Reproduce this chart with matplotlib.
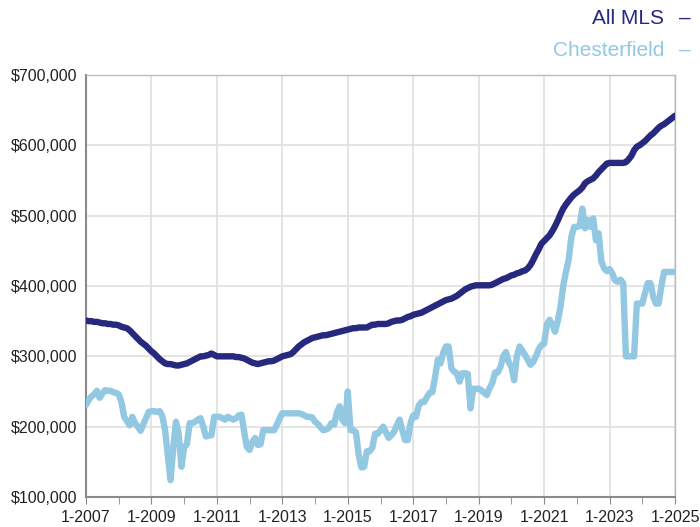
import matplotlib
matplotlib.use('Agg')
import matplotlib.pyplot as plt
import numpy as np

plt.rcParams['font.family'] = ['Liberation Sans', 'DejaVu Sans']

# monthly median price, Jan 2007 .. Jan 2025, in $1000s
all_mls = [
    351, 350, 350, 349, 349, 348, 347, 347, 346, 346, 345, 345,   # 2007
    344, 342, 341, 340, 337, 333, 329, 325, 321, 318, 315, 311,   # 2008
    307, 304, 300, 296, 293, 290, 289, 289, 288, 287, 287, 288,   # 2009
    289, 290, 292, 294, 296, 298, 300, 300, 301, 302, 304, 302,   # 2010
    300, 300, 300, 300, 300, 300, 300, 299, 299, 298, 297, 295,   # 2011
    293, 291, 290, 289, 290, 291, 292, 293, 293, 294, 296, 298,   # 2012
    300, 301, 302, 303, 306, 310, 314, 317, 320, 322, 324, 326,   # 2013
    327, 328, 329, 330, 330, 331, 332, 333, 334, 335, 336, 337,   # 2014
    338, 339, 340, 340, 341, 341, 341, 341, 343, 345, 345, 346,   # 2015
    346, 346, 346, 347, 349, 350, 351, 351, 352, 354, 356, 357,   # 2016
    359, 360, 361, 362, 364, 366, 368, 370, 372, 374, 376, 378,   # 2017
    380, 381, 382, 384, 386, 389, 392, 395, 397, 399, 400, 401,   # 2018
    401, 401, 401, 401, 401, 402, 404, 406, 408, 410, 411, 413,   # 2019
    415, 416, 418, 419, 421, 422, 425, 430, 437, 445, 452, 460,   # 2020
    464, 468, 472, 478, 485, 493, 502, 510, 516, 521, 526, 530,   # 2021
    533, 536, 540, 546, 549, 551, 553, 557, 562, 566, 570, 574,   # 2022
    575, 575, 575, 575, 575, 575, 576, 580, 585, 593, 598, 600,   # 2023
    603, 606, 610, 614, 617, 621, 625, 628, 630, 633, 636, 639,   # 2024
    642,                                                          # 2025
]

chesterfield = [
    231, 238, 243, 246, 251, 241, 247, 252, 251, 251, 249, 248,   # 2007
    246, 235, 214, 208, 202, 214, 205, 200, 194, 203, 212, 221,   # 2008
    222, 222, 221, 222, 215, 195, 160, 124, 170, 207, 190, 143,   # 2009
    171, 175, 205, 205, 207, 210, 212, 200, 186, 187, 188, 214,   # 2010
    214, 214, 212, 210, 214, 212, 210, 212, 216, 217, 193, 171,   # 2011
    167, 178, 184, 174, 175, 195, 195, 195, 195, 195, 203, 212,   # 2012
    219, 219, 219, 219, 219, 219, 219, 218, 216, 214, 214, 213,   # 2013
    207, 204, 199, 195, 196, 198, 205, 203, 220, 229, 210, 205,   # 2014
    250, 195, 195, 192, 160, 142, 143, 165, 165, 170, 190, 190,   # 2015
    195, 200, 192, 184, 188, 193, 202, 210, 195, 181, 181, 205,   # 2016
    216, 214, 230, 235, 235, 242, 248, 249, 270, 295, 290, 305,   # 2017
    314, 314, 283, 278, 276, 264, 276, 276, 275, 226, 254, 254,   # 2018
    254, 252, 248, 245, 255, 262, 277, 277, 285, 300, 306, 292,   # 2019
    285, 266, 300, 314, 308, 302, 295, 288, 292, 300, 310, 316,   # 2020
    318, 345, 352, 345, 335, 350, 370, 400, 420, 437, 470, 484,   # 2021
    484, 485, 510, 482, 494, 484, 496, 465, 475, 435, 425, 421,   # 2022
    424, 418, 408, 406, 409, 404, 300, 300, 300, 300, 375, 375,   # 2023
    375, 390, 404, 404, 385, 375, 375, 400, 420, 420, 420, 420,   # 2024
    420,                                                          # 2025
]

tick_labels = ['1-2007', '1-2009', '1-2011', '1-2013', '1-2015',
               '1-2017', '1-2019', '1-2021', '1-2023', '1-2025']

dark = '#27297f'
light = '#93c8e3'

months = np.arange(len(all_mls))

fig = plt.figure(figsize=(7, 5.27), dpi=100)
ax = fig.add_axes([86 / 700, 1 - 497 / 527, 589 / 700, 422 / 527])

ax.plot(months, np.array(chesterfield) * 1000, color=light, lw=4.6,
        solid_joinstyle='round', solid_capstyle='round', zorder=3)
ax.plot(months, np.array(all_mls) * 1000, color=dark, lw=4.6,
        solid_joinstyle='round', solid_capstyle='round', zorder=4)

ax.set_xlim(0, 216)
ax.set_ylim(100000, 700000)
ax.set_xticks(np.arange(0, 217, 24))
ax.set_xticklabels(tick_labels)
ax.set_xticks(np.arange(0, 217, 12), minor=True)
ax.set_yticks(np.arange(100000, 700001, 100000))
ax.set_yticklabels(['${:,}'.format(v) for v in range(100000, 700001, 100000)])

ax.grid(True, which='major', color='#e2e2e2', lw=1.3, zorder=0)
ax.tick_params(axis='both', which='major', labelsize=11.5, colors='#888888',
               labelcolor='#222222', length=0, pad=6)
ax.tick_params(axis='x', which='major', length=5, direction='out', pad=4)
ax.tick_params(axis='x', which='minor', length=5, color='#888888')

for s in ['left', 'bottom']:
    ax.spines[s].set_color('#8a8a8a')
    ax.spines[s].set_linewidth(1.5)
for s in ['top', 'right']:
    ax.spines[s].set_color('#bbbbbb')
    ax.spines[s].set_linewidth(1.0)

# legend as right-aligned text with short dashes
for label, col, ypix in [('All MLS', dark, 18), ('Chesterfield', light, 50)]:
    fig.text(664 / 700, 1 - ypix / 527, label, color=col, fontsize=15,
             ha='right', va='center')
    fig.text(691 / 700, 1 - ypix / 527, '\u2013', color=col, fontsize=15,
             ha='right', va='center')

fig.savefig('out.png', dpi=100)
